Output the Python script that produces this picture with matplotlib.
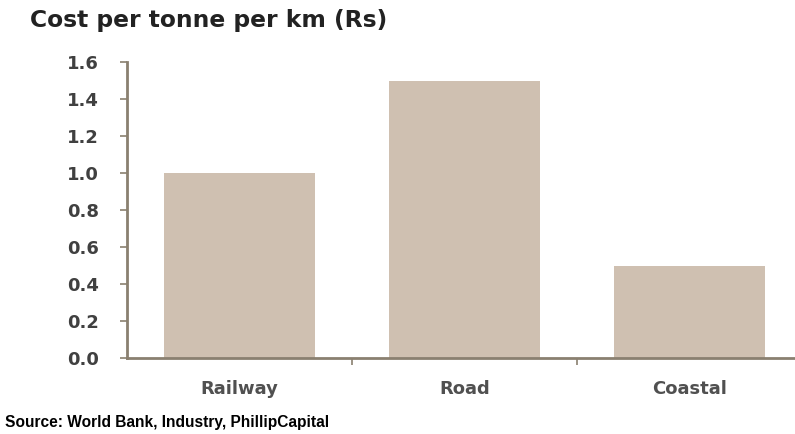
import matplotlib
matplotlib.use("Agg")
import matplotlib.pyplot as plt
from matplotlib.ticker import FixedLocator, NullFormatter

categories = ["Railway", "Road", "Coastal"]
values = [1.0, 1.5, 0.5]
yticks = [0.0, 0.2, 0.4, 0.6, 0.8, 1.0, 1.2, 1.4, 1.6]
title = "Cost per tonne per km (Rs)"
source = "Source: World Bank, Industry, PhillipCapital"

bar_color = "#CFC0B1"
axis_color = "#8A8070"
text_color = "#404040"

fig = plt.figure(figsize=(7.95, 4.34), dpi=100)
ax = fig.add_axes([127/795, (434-358)/434, 675/795, (358-62)/434])

x = list(range(len(categories)))
ax.bar(x, values, width=0.67, color=bar_color, zorder=2)

ax.set_xlim(-0.5, len(categories) - 0.5)
ax.set_ylim(0, 1.6)
ax.set_yticks(yticks)
ax.set_yticklabels([f"{v:.1f}" for v in yticks], fontsize=13, fontweight="bold",
                   color=text_color, family="DejaVu Sans")
ax.set_xticks(x)
ax.set_xticklabels(categories, fontsize=13, fontweight="bold", color="#505050",
                   family="DejaVu Sans")
ax.tick_params(axis="x", length=0, pad=16)
ax.xaxis.set_minor_locator(FixedLocator([i + 0.5 for i in range(len(categories) - 1)]))
ax.xaxis.set_minor_formatter(NullFormatter())
ax.tick_params(axis="x", which="minor", length=5, color=axis_color, width=1.2)
ax.tick_params(axis="y", length=5, color=axis_color, width=1.2, pad=15)

for s in ["top", "right"]:
    ax.spines[s].set_visible(False)
for s in ["left", "bottom"]:
    ax.spines[s].set_color(axis_color)
    ax.spines[s].set_linewidth(2)

fig.text(30/795, 1 - 20/434, title, fontsize=16.8, fontweight="bold", color="#222222",
         family="DejaVu Sans", va="center", ha="left")
fig.text(5/795, 1 - 423/434, source, fontsize=11.2, fontweight="bold", color="black",
         family="Liberation Sans", va="center", ha="left")

fig.savefig("out.png", dpi=100)
